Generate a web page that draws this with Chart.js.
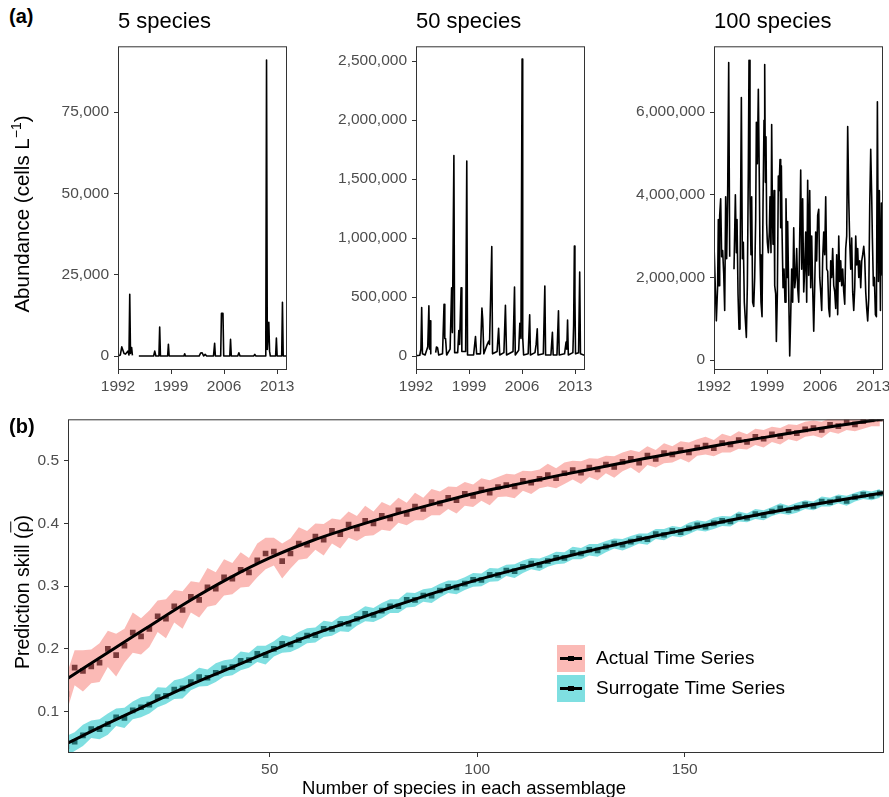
<!DOCTYPE html>
<html>
<head>
<meta charset="utf-8">
<script src="https://cdn.jsdelivr.net/npm/chart.js@4.4.1/dist/chart.umd.min.js"></script>
<style>
html, body { margin: 0; padding: 0; background: #fff; }
#page { position: relative; width: 889px; height: 797px; overflow: hidden; font-family: "Liberation Sans", Arial, sans-serif; color: #000; }
canvas { position: absolute; }
.txt { position: absolute; white-space: nowrap; line-height: 1; }
.rot { position: absolute; white-space: nowrap; line-height: 1; transform: translate(-50%, -50%) rotate(-90deg); }
.key { position: absolute; width: 28px; height: 27px; }
.key::before { content: ""; position: absolute; left: 3px; right: 3px; top: 12px; height: 3px; background: #000; }
.key::after { content: ""; position: absolute; left: 11px; top: 11px; width: 6px; height: 5px; background: #000; }
</style>
</head>
<body>
<div id="page">
  <canvas id="c5" width="294" height="378" style="left:18px;top:32px"></canvas>
  <canvas id="c50" width="294" height="378" style="left:316px;top:32px"></canvas>
  <canvas id="c100" width="294" height="378" style="left:614px;top:32px"></canvas>
  <canvas id="cb" width="889" height="383" style="left:0;top:405px"></canvas>

  <div class="txt" style="left:9px;top:6px;font-size:20px;font-weight:bold">(a)</div>
  <div class="txt" style="left:118px;top:10px;font-size:22px">5 species</div>
  <div class="txt" style="left:416px;top:10px;font-size:22px">50 species</div>
  <div class="txt" style="left:714px;top:10px;font-size:22px">100 species</div>
  <div class="rot" style="left:22px;top:214px;font-size:20.5px">Abundance (cells L<span style="font-size:14px;position:relative;top:-8px">−1</span>)</div>

  <div class="txt" style="left:9px;top:416px;font-size:20px;font-weight:bold">(b)</div>
  <div class="rot" style="left:23px;top:592px;font-size:19.5px">Prediction skill (<span style="text-decoration:overline">ρ</span>)</div>
  <div class="txt" style="left:464px;top:779px;font-size:18.5px;transform:translateX(-50%)">Number of species in each assemblage</div>

  <div class="key" style="left:557px;top:645px;background:rgba(248,118,109,0.5)"></div>
  <div class="key" style="left:557px;top:675px;background:rgba(0,191,196,0.5)"></div>
  <div class="txt" style="left:596px;top:648px;font-size:19px">Actual Time Series</div>
  <div class="txt" style="left:596px;top:678px;font-size:19px">Surrogate Time Series</div>
</div>

<script>
// ---- panel (a): abundance time series ----
const yearTicks = [1992, 1999, 2006, 2013];

const years5 = [1992.0, 1992.3, 1992.5, 1992.65, 1992.8, 1993.0, 1993.3, 1993.45, 1993.55, 1993.65,
    1993.8, 1993.9, 1994.3, 1994.75, 1996.7, 1996.85, 1997.0, 1997.4, 1997.5, 1997.6,
    1998.55, 1998.65, 1998.75, 2000.7, 2000.8, 2000.9, 2002.7, 2002.9, 2003.1, 2003.3,
    2003.5, 2003.7, 2004.6, 2004.75, 2004.85, 2005.55, 2005.65, 2005.85, 2005.95, 2006.75,
    2006.85, 2006.95, 2007.8, 2007.95, 2008.1, 2009.9, 2010.05, 2010.2, 2011.4, 2011.5,
    2011.6, 2011.7, 2011.9, 2012.0, 2012.1, 2012.8, 2012.9, 2013.0, 2013.6, 2013.7,
    2013.8, 2014.3];
const abund5 = [0, 300, 2800, 1800, 800, 600, 1500, 300, 19000, 800,
    2600, 200, null, 0, 0, 1500, 0, 0, 8900, 0,
    0, 3600, 0, 0, 700, 0, 0, 900, 1000, 0,
    500, 0, 0, 3900, 0, 0, 13100, 13100, 0, 0,
    5100, 0, 0, 1000, 0, 0, 500, 0, 0, 1200,
    91000, 2000, 10400, 1500, 0, 0, 5500, 0, 0, 16500,
    0, 0];
const ticks5 = [0, 25000, 50000, 75000];

const years50 = [1992.0, 1992.5, 1992.65, 1992.75, 1992.85, 1993.2, 1993.55, 1993.7, 1993.78, 1993.85,
    1993.95, 1994.3, 1994.6, 1994.7, 1994.85, 1995.0, 1995.5, 1995.7, 1995.8, 1995.9,
    1996.05, 1996.5, 1996.7, 1996.8, 1997.0, 1997.1, 1997.5, 1997.65, 1997.75, 1997.95,
    1998.05, 1998.55, 1998.7, 1998.8, 1999.6, 1999.85, 2000.0, 2000.5, 2000.7, 2000.8,
    2000.95, 2001.4, 2001.6, 2001.7, 2002.0, 2002.1, 2002.7, 2002.9, 2003.05, 2003.6,
    2003.8, 2003.95, 2004.8, 2005.0, 2005.1, 2005.55, 2005.7, 2005.85, 2006.0, 2006.08,
    2006.2, 2006.8, 2007.0, 2007.1, 2007.7, 2007.85, 2008.0, 2008.1, 2008.8, 2009.0,
    2009.1, 2009.8, 2010.0, 2010.1, 2010.6, 2010.8, 2010.9, 2011.6, 2011.8, 2011.9,
    2012.0, 2012.1, 2012.7, 2012.8, 2012.9, 2012.97, 2013.05, 2013.45, 2013.6, 2013.7,
    2014.3];
const abund50 = [5000, 8000, 60000, 412000, 20000, 10000, 80000, 426000, 60000, 300000,
    20000, null, 30000, 78000, 70000, 10000, 20000, 440000, 150000, 150000,
    10000, 60000, 580000, 200000, 1700000, 30000, 30000, 217000, 100000, 580000,
    40000, 40000, 1653000, 10000, 10000, 167000, 20000, 20000, 407000, 315000,
    20000, 100000, 128000, 100000, 928000, 20000, 40000, 237000, 10000, 30000,
    432000, 10000, 40000, 585000, 10000, 50000, 279000, 150000, 2517000, 160000,
    10000, 20000, 351000, 10000, 30000, 100000, 231000, 10000, 20000, 594000,
    10000, 10000, 203000, 10000, 10000, 385000, 10000, 20000, 120000, 60000,
    307000, 10000, 30000, 260000, 934000, 510000, 20000, 30000, 713000, 20000,
    5000];
const ticks50 = [0, 500000, 1000000, 1500000, 2000000, 2500000];

const years100 = [1992.00, 1992.31, 1992.48, 1992.57, 1992.66, 1992.75, 1992.88, 1993.01, 1993.14, 1993.28,
    1993.41, 1993.54, 1993.67, 1993.80, 1993.94, 1994.07, 1994.35,
    1994.64, 1994.82, 1994.95, 1995.04, 1995.17, 1995.30, 1995.43, 1995.61, 1995.74, 1995.87,
    1996.00, 1996.27, 1996.40, 1996.53, 1996.62, 1996.75, 1996.88, 1996.97, 1997.10, 1997.24,
    1997.37, 1997.50, 1997.59, 1997.72, 1997.85, 1997.98, 1998.07, 1998.20, 1998.34, 1998.47,
    1998.60, 1998.69, 1998.78, 1998.86, 1998.95, 1999.04, 1999.17, 1999.30, 1999.39, 1999.52,
    1999.61, 1999.70, 1999.79, 1999.92, 2000.01, 2000.14, 2000.23, 2000.36, 2000.49, 2000.58,
    2000.71, 2000.80, 2000.89, 2000.98, 2001.11, 2001.24, 2001.37, 2001.50, 2001.64, 2001.72,
    2001.86, 2001.99, 2002.12, 2002.25, 2002.38, 2002.52, 2002.65, 2002.78, 2002.91, 2003.04,
    2003.18, 2003.31, 2003.44, 2003.57, 2003.70, 2003.84, 2003.97, 2004.10, 2004.23, 2004.36,
    2004.50, 2004.63, 2004.76, 2004.89, 2005.02, 2005.16, 2005.29, 2005.42, 2005.55, 2005.68,
    2005.82, 2005.95, 2006.08, 2006.21, 2006.34, 2006.48, 2006.61, 2006.74, 2006.87, 2007.00,
    2007.14, 2007.27, 2007.40, 2007.53, 2007.66, 2007.80, 2007.93, 2008.06, 2008.19, 2008.32,
    2008.46, 2008.59, 2008.72, 2008.85, 2008.98, 2009.12, 2009.25, 2009.38, 2009.51, 2009.64,
    2009.78, 2009.91, 2010.04, 2010.17, 2010.30, 2010.44, 2010.57, 2010.70, 2010.83, 2010.96,
    2011.10, 2011.23, 2011.36, 2011.49, 2011.62, 2011.76, 2011.89, 2012.02, 2012.15, 2012.28,
    2012.42, 2012.55, 2012.68, 2012.81, 2012.90, 2013.03, 2013.16, 2013.30, 2013.43, 2013.56,
    2013.69, 2013.82, 2013.96, 2014.09, 2014.22, 2014.31];
const abund100 = [2.8e6, 0.95e6, 1.8e6, 3.4e6, 1.8e6, 3.5e6, 3.9e6, 2.5e6, 2.65e6, 2.1e6,
    1.2e6, 3.95e6, 2.45e6, 3.95e6, 7.2e6, 2.5e6, null,
    2.2e6, 4.0e6, 2.6e6, 3.4e6, 1.6e6, 0.75e6, 1.8e6, 6.35e6, 2.45e6, 2.85e6,
    1.4e6, 0.55e6, 1.8e6, 4.6e6, 7.25e6, 3.95e6, 2.55e6, 3.95e6, 1.4e6, 1.3e6,
    2.0e6, 3.4e6, 5.75e6, 4.75e6, 6.55e6, 4.35e6, 2.55e6, 1.4e6, 1.05e6, 3.8e6,
    5.8e6, 7.15e6, 4.3e6, 5.4e6, 3.3e6, 2.85e6, 2.6e6, 3.1e6, 3.95e6, 2.6e6,
    5.7e6, 3.75e6, 2.8e6, 4.1e6, 1.8e6, 1.6e6, 0.45e6, 1.6e6, 4.45e6, 4.1e6,
    4.85e6, 3.2e6, 4.7e6, 3.1e6, 1.75e6, 2.2e6, 1.4e6, 3.9e6, 2.0e6, 3.35e6,
    1.6e6, 0.1e6, 1.05e6, 2.2e6, 1.4e6, 3.2e6, 1.75e6, 2.0e6, 2.7e6, 1.75e6,
    1.4e6, 3.0e6, 4.6e6, 2.2e6, 3.9e6, 1.65e6, 2.2e6, 3.1e6, 1.4e6, 4.35e6,
    2.05e6, 4.1e6, 1.75e6, 3.0e6, 1.75e6, 0.7e6, 1.8e6, 3.1e6, 2.4e6, 3.5e6,
    3.65e6, 2.0e6, 1.65e6, 1.2e6, 2.45e6, 3.1e6, 2.55e6, 3.95e6, 2.2e6, 2.15e6,
    1.25e6, 1.05e6, 2.4e6, 2.0e6, 2.7e6, 1.8e6, 1.65e6, 1.25e6, 2.55e6, 1.1e6,
    3.0e6, 1.9e6, 2.4e6, 1.8e6, 2.2e6, 1.65e6, 1.35e6, 2.7e6, 3.0e6, 5.65e6,
    3.9e6, 2.85e6, 2.2e6, 2.95e6, 1.65e6, 1.2e6, 1.75e6, 3.0e6, 2.3e6, 2.7e6,
    2.0e6, 2.4e6, 1.75e6, 2.4e6, 2.55e6, 2.75e6, 2.45e6, 1.65e6, 1.25e6, 0.95e6,
    1.5e6, 3.75e6, 5.1e6, 3.95e6, 2.95e6, 1.8e6, 2.0e6, 1.1e6, 1.05e6, 6.25e6,
    1.9e6, 4.1e6, 1.2e6, 3.8e6, 2.05e6, 2.8e6];
const ticks100 = [0, 2000000, 4000000, 6000000];

// ---- panel (b): prediction skill ----
const speciesCounts = [1, 3, 5, 7, 9, 11, 13, 15, 17, 19,
    21, 23, 25, 27, 29, 31, 33, 35, 37, 39,
    41, 43, 45, 47, 49, 51, 53, 55, 57, 59,
    61, 63, 65, 67, 69, 71, 73, 75, 77, 79,
    81, 83, 85, 87, 89, 91, 93, 95, 97, 99,
    101, 103, 105, 107, 109, 111, 113, 115, 117, 119,
    121, 123, 125, 127, 129, 131, 133, 135, 137, 139,
    141, 143, 145, 147, 149, 151, 153, 155, 157, 159,
    161, 163, 165, 167, 169, 171, 173, 175, 177, 179,
    181, 183, 185, 187, 189, 191, 193, 195, 197];
const actualSkill = [.128, .170, .165, .172, .178, .200, .190, .205, .226, .220,
    .232, .252, .248, .268, .262, .283, .278, .298, .296, .314,
    .312, .326, .322, .341, .352, .355, .340, .352, .368, .366,
    .379, .374, .388, .383, .398, .392, .404, .400, .412, .408,
    .421, .415, .427, .423, .434, .432, .441, .437, .447, .444,
    .454, .449, .458, .461, .459, .468, .465, .471, .477, .472,
    .480, .485, .481, .489, .486, .494, .490, .498, .503, .497,
    .508, .503, .512, .510, .517, .513, .521, .524, .520, .528,
    .526, .533, .530, .538, .535, .542, .539, .546, .544, .550,
    .552, .549, .557, .555, .561, .558, .563, .566, .567];
const actualSE = [.030, .028, .033, .027, .031, .029, .034, .027, .032, .029,
    .029, .025, .031, .026, .030, .025, .028, .031, .026, .029,
    .025, .028, .023, .027, .025, .022, .028, .024, .026, .022,
    .021, .025, .020, .023, .021, .020, .024, .019, .022, .020,
    .020, .018, .022, .018, .021, .019, .018, .021, .019, .018,
    .018, .020, .016, .018, .019, .016, .018, .015, .018, .016,
    .017, .015, .018, .015, .017, .014, .017, .015, .014, .017,
    .015, .014, .016, .013, .014, .016, .013, .014, .013, .015,
    .013, .014, .012, .013, .014, .012, .013, .012, .013, .012,
    .012, .013, .011, .012, .012, .011, .012, .011, .012];
const surrogateSkill = [.045, .052, .062, .072, .072, .080, .091, .090, .102, .107,
    .111, .123, .125, .135, .137, .147, .155, .154, .162, .169,
    .171, .181, .182, .192, .190, .200, .208, .207, .214, .221,
    .222, .232, .232, .240, .240, .248, .256, .254, .261, .268,
    .268, .278, .278, .285, .285, .293, .299, .298, .304, .310,
    .310, .318, .318, .325, .324, .331, .336, .334, .340, .345,
    .345, .353, .352, .358, .357, .363, .368, .366, .371, .376,
    .375, .383, .382, .388, .386, .392, .397, .395, .400, .404,
    .403, .411, .409, .415, .413, .419, .424, .421, .425, .430,
    .428, .435, .434, .439, .436, .442, .446, .444, .448];
const surrogateSE = [.016, .015, .017, .014, .016, .017, .014, .016, .014, .016,
    .014, .016, .013, .015, .016, .013, .015, .013, .015, .013,
    .013, .015, .012, .013, .015, .012, .014, .012, .013, .012,
    .012, .013, .011, .012, .013, .011, .012, .011, .012, .011,
    .011, .012, .011, .010, .012, .011, .010, .011, .010, .011,
    .010, .011, .010, .009, .011, .010, .009, .010, .009, .010,
    .009, .010, .009, .009, .010, .009, .008, .009, .009, .008,
    .009, .008, .009, .008, .008, .009, .008, .008, .009, .008,
    .008, .008, .007, .008, .008, .007, .008, .007, .008, .007,
    .007, .008, .007, .007, .008, .007, .007, .007, .007];
// fitted smooth curves
const fitSpecies = [1.4, 10, 20, 30, 40, 50, 60, 70, 80, 90, 100, 110, 120, 130, 140, 150, 160, 170, 180, 190, 198];
const fitActual = [.153, .190, .232, .274, .312, .345, .372, .394, .414, .432, .449, .463, .477, .490, .503, .515, .527, .538, .549, .559, .567];
const fitSurrogate = [.050, .078, .109, .140, .168, .196, .222, .245, .268, .290, .310, .328, .345, .361, .376, .390, .404, .417, .429, .440, .449];
const skillTicks = [0.1, 0.2, 0.3, 0.4, 0.5];
const speciesTicks = [50, 100, 150];

// ---- common settings ----
const tickFont = { family: '"Liberation Sans", Arial, sans-serif', size: 15.5 };
const tickColor = '#4d4d4d';

// ggplot風の枠線
const framePlugin = {
    id: 'frame',
    afterDraw(chart) {
        const { ctx, chartArea: a } = chart;
        ctx.save();
        ctx.strokeStyle = '#333333';
        ctx.lineWidth = 1;
        ctx.strokeRect(a.left + 0.5, a.top + 0.5, a.right - a.left - 1, a.bottom - a.top - 1);
        ctx.restore();
    }
};

function axis(opts) {
    return {
        type: 'linear',
        min: opts.min,
        max: opts.max,
        afterBuildTicks: s => { s.ticks = opts.ticks.map(v => ({ value: v })); },
        afterFit: s => {
            if (opts.width) s.width = opts.width;
            if (opts.height) s.height = opts.height;
        },
        grid: { drawOnChartArea: false, drawTicks: true, tickLength: 4, color: '#333333', lineWidth: 1 },
        border: { display: false },
        ticks: { font: tickFont, color: tickColor, padding: opts.padding, maxRotation: 0, autoSkip: false, callback: opts.fmt }
    };
}

function toPoints(xs, ys) {
    return xs.map((x, i) => ({ x: x, y: ys[i] }));
}

function seriesChart(id, years, values, yMin, yMax, yTicks) {
    new Chart(document.getElementById(id), {
        type: 'line',
        data: {
            datasets: [{
                data: toPoints(years, values),
                borderColor: '#000',
                borderWidth: 1.6,
                borderJoinStyle: 'round',
                pointRadius: 0,
                tension: 0,
                spanGaps: false,
                fill: false
            }]
        },
        options: {
            responsive: false,
            animation: false,
            events: [],
            layout: { padding: { top: 10, right: 25, left: 0, bottom: 0 } },
            plugins: { legend: { display: false }, tooltip: { enabled: false } },
            scales: {
                x: axis({ min: 1992, max: 2014.3, ticks: yearTicks, height: 40, padding: 3, fmt: v => String(v) }),
                y: axis({ min: yMin, max: yMax, ticks: yTicks, width: 100, padding: 5, fmt: v => v.toLocaleString('en-US') })
            }
        },
        plugins: [framePlugin]
    });
}

seriesChart('c5', years5, abund5, -4300, 95200, ticks5);
seriesChart('c50', years50, abund50, -117000, 2625000, ticks50);
seriesChart('c100', years100, abund100, -239000, 7590000, ticks100);

// ---- panel (b) ----
const band = (vals, se, sign) => speciesCounts.map((x, i) => ({ x: x, y: vals[i] + sign * se[i] }));

new Chart(document.getElementById('cb'), {
    type: 'line',
    data: {
        datasets: [
            { data: toPoints(fitSpecies, fitActual), borderColor: '#000', borderWidth: 3, pointRadius: 0, cubicInterpolationMode: 'monotone', order: 0, clip: 0 },
            { data: toPoints(fitSpecies, fitSurrogate), borderColor: '#000', borderWidth: 3, pointRadius: 0, cubicInterpolationMode: 'monotone', order: 0, clip: 0 },
            { data: toPoints(speciesCounts, actualSkill), showLine: false, pointStyle: 'rect', pointRadius: 4, pointBorderWidth: 0, backgroundColor: '#7b3a3a', order: 1, clip: 0 },
            { data: toPoints(speciesCounts, surrogateSkill), showLine: false, pointStyle: 'rect', pointRadius: 4, pointBorderWidth: 0, backgroundColor: '#1f6b6c', order: 1, clip: 0 },
            { data: band(actualSkill, actualSE, -1), borderColor: 'rgba(0,0,0,0)', borderWidth: 0, pointRadius: 0, tension: 0, fill: false, order: 2, clip: 0 },
            { data: band(actualSkill, actualSE, 1), borderColor: 'rgba(0,0,0,0)', borderWidth: 0, pointRadius: 0, tension: 0, fill: '-1', backgroundColor: 'rgba(248,118,109,0.5)', order: 2, clip: 0 },
            { data: band(surrogateSkill, surrogateSE, -1), borderColor: 'rgba(0,0,0,0)', borderWidth: 0, pointRadius: 0, tension: 0, fill: false, order: 2, clip: 0 },
            { data: band(surrogateSkill, surrogateSE, 1), borderColor: 'rgba(0,0,0,0)', borderWidth: 0, pointRadius: 0, tension: 0, fill: '-1', backgroundColor: 'rgba(0,191,196,0.5)', order: 2, clip: 0 }
        ]
    },
    options: {
        responsive: false,
        animation: false,
        events: [],
        layout: { padding: { top: 10, right: 5, left: 0, bottom: 0 } },
        plugins: { legend: { display: false }, tooltip: { enabled: false } },
        scales: {
            x: axis({ min: 1.4, max: 198, ticks: speciesTicks, height: 35, padding: 3, fmt: v => String(v) }),
            y: axis({ min: 0.034, max: 0.566, ticks: skillTicks, width: 68, padding: 5, fmt: v => v.toFixed(1) })
        }
    },
    plugins: [framePlugin]
});
</script>
</body>
</html>
